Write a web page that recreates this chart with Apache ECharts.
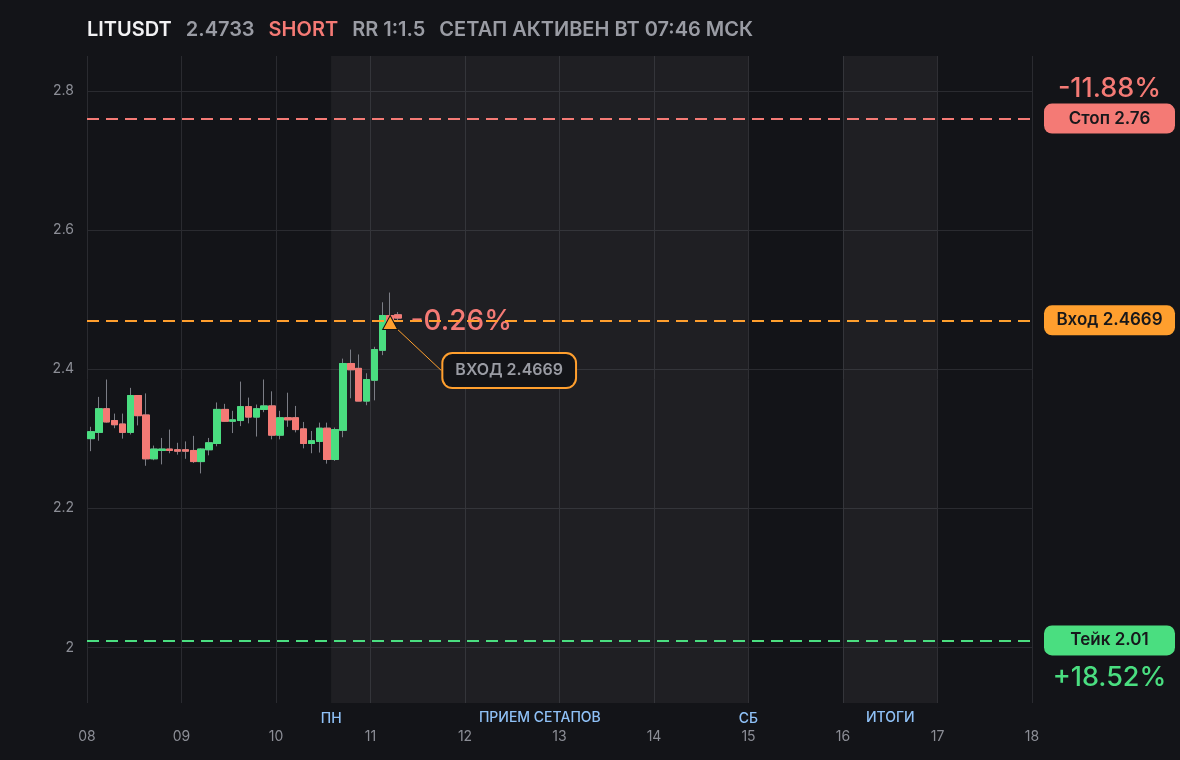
<!DOCTYPE html>
<html>
<head>
<meta charset="utf-8">
<script src="https://cdn.jsdelivr.net/npm/echarts@6/dist/echarts.min.js"></script>
<style>
html,body{margin:0;padding:0;background:#131418;}
#chart{width:1180px;height:760px;}
</style>
</head>
<body>
<div id="chart"></div>
<script>
// ---- header ----
const ticker = 'LITUSDT';
const lastPrice = '2.4733';
const side = 'SHORT';
const rrText = 'RR 1:1.5';
const statusText = 'СЕТАП АКТИВЕН ВТ 07:46 МСК';

// ---- 2h candles (open time "DD HH:MM") ----
const candleTimes = [
  '08 00:00','08 02:00','08 04:00','08 06:00','08 08:00','08 10:00','08 12:00','08 14:00','08 16:00','08 18:00','08 20:00','08 22:00',
  '09 00:00','09 02:00','09 04:00','09 06:00','09 08:00','09 10:00','09 12:00','09 14:00','09 16:00','09 18:00','09 20:00','09 22:00',
  '10 00:00','10 02:00','10 04:00','10 06:00','10 08:00','10 10:00','10 12:00','10 14:00','10 16:00','10 18:00','10 20:00','10 22:00',
  '11 00:00','11 02:00','11 04:00','11 06:00'
];
const opens  = [2.300,2.309,2.343,2.326,2.321,2.309,2.362,2.334,2.271,2.283,2.285,2.284,
                2.284,2.283,2.267,2.284,2.293,2.342,2.325,2.326,2.346,2.331,2.342,2.347,
                2.305,2.330,2.330,2.314,2.293,2.296,2.315,2.270,2.312,2.408,2.401,2.354,
                2.384,2.427,2.477,2.478];
const closes = [2.310,2.343,2.324,2.320,2.309,2.362,2.333,2.271,2.285,2.285,2.283,2.282,
                2.282,2.267,2.285,2.294,2.342,2.325,2.327,2.346,2.331,2.343,2.347,2.305,
                2.330,2.327,2.313,2.293,2.297,2.315,2.270,2.313,2.408,2.399,2.354,2.385,
                2.428,2.477,2.468,2.4733];
const lows   = [2.282,2.297,2.323,2.315,2.300,2.306,2.319,2.261,2.269,2.263,2.279,2.277,
                2.271,2.265,2.250,2.276,2.289,2.324,2.308,2.318,2.322,2.303,2.338,2.299,
                2.299,2.317,2.309,2.286,2.279,2.280,2.264,2.268,2.302,2.358,2.354,2.348,
                2.355,2.420,2.462,2.470];
const highs  = [2.317,2.360,2.385,2.336,2.336,2.373,2.362,2.365,2.290,2.301,2.313,2.294,
                2.296,2.304,2.286,2.301,2.352,2.350,2.340,2.382,2.359,2.349,2.385,2.368,
                2.340,2.366,2.347,2.324,2.311,2.323,2.323,2.316,2.415,2.428,2.421,2.394,
                2.432,2.496,2.510,2.482];

// ---- setup levels ----
const stopPrice = 2.76;
const entryPrice = 2.4669;
const takePrice = 2.01;
const stopPct = '-11.88%';
const takePct = '+18.52%';
const pnlPct = '-0.26%';
const entryTime = '11 05:00';

// ---- axes ----
const dayTicks = ['08','09','10','11','12','13','14','15','16','17','18'];
const priceMin = 1.92, priceMax = 2.85;

// ---- session zones ----
const zoneStarts = ['10 14:00', '16 00:00'];
const zoneEnds   = ['15 00:00', '17 00:00'];
const zoneNames  = ['ПРИЕМ СЕТАПОВ', 'ИТОГИ'];
const edgeTimes  = ['10 14:00', '15 00:00'];
const edgeNames  = ['ПН', 'СБ'];

// ---- colours ----
const C = {
  bg:'#131418', grid:'#2a2b30', axisText:'#8c8e96',
  up:'#4ade80', down:'#f47a75', wick:'#7b7d85',
  stop:'#f47a75', entry:'#ff9f2e', take:'#4ade80',
  zone:'rgba(255,255,255,0.05)', zoneText:'#8fc1f7',
  title:'#f2f2f4', titleGrey:'#9a9ca4'
};
const FONT = 'Inter, "Noto Sans", sans-serif';
const CLEAR = 'rgba(0,0,0,0)';

function toDay(s){
  const [d, hm] = s.split(' ');
  const [h, m] = hm.split(':').map(Number);
  return Number(d) + h/24 + m/1440;
}
const halfCandle = 1/24; // candles drawn at the middle of their 2h period

const wickData = candleTimes.map((t,i)=>[toDay(t)+halfCandle, opens[i], closes[i], lows[i], highs[i]]);
const bodyData = candleTimes.map((t,i)=>[toDay(t)+halfCandle, opens[i], closes[i], Math.min(opens[i],closes[i]), Math.max(opens[i],closes[i])]);
const lastIdx = candleTimes.length - 1;

function pill(text, color){
  return {
    show:true, position:'end', distance:77.5, align:'center', verticalAlign:'middle',
    formatter:text, color:'#17181b', fontFamily:FONT, fontSize:17, fontWeight:600,
    backgroundColor:color, borderRadius:8, width:131, lineHeight:19, padding:[6,0,5,0]
  };
}
function pctLabel(text, color, above){
  return {
    show:true, position:'end', distance:77.5, align:'center',
    verticalAlign: above ? 'bottom' : 'top',
    padding: above ? [0,0,15,0] : [23,0,0,0],
    formatter:text, color:color, fontFamily:FONT, fontSize:27, fontWeight:500, lineHeight:29
  };
}
const dashed = [12,7];

const chart = echarts.init(document.getElementById('chart'), null, {renderer:'canvas'});
chart.setOption({
  backgroundColor:C.bg,
  animation:false,
  title:{
    left:82, top:15,
    text:'{a|'+ticker+'}{g|'+lastPrice+'}{r|'+side+'}{g|'+rrText+'}{g|'+statusText+'}',
    textStyle:{
      rich:{
        a:{color:C.title, fontSize:20, fontWeight:600, fontFamily:FONT, padding:[0,14,0,0]},
        g:{color:C.titleGrey, fontSize:20, fontWeight:600, fontFamily:FONT, padding:[0,14,0,0]},
        r:{color:C.stop, fontSize:20, fontWeight:600, fontFamily:FONT, padding:[0,14,0,0]}
      }
    }
  },
  grid:{left:87, right:148, top:56, bottom:57, containLabel:false},
  xAxis:{
    type:'value', min:8, max:18, interval:1,
    axisLine:{show:false}, axisTick:{show:false},
    axisLabel:{color:C.axisText, fontSize:14, fontFamily:FONT, margin:27,
      formatter:(v)=>dayTicks[Math.round(v-8)] || ''},
    splitLine:{show:true, lineStyle:{color:C.grid, width:1}}
  },
  yAxis:{
    type:'value', min:priceMin, max:priceMax, position:'left',
    axisLine:{show:false}, axisTick:{show:false},
    axisLabel:{color:C.axisText, fontSize:14, fontFamily:FONT, margin:13, showMinLabel:false, showMaxLabel:false},
    splitLine:{show:true, showMinLine:false, showMaxLine:false, lineStyle:{color:C.grid, width:1}}
  },
  series:[
    {
      name:'wicks', type:'candlestick', data:wickData, barWidth:7, z:2,
      itemStyle:{color:C.wick, color0:C.wick, borderColor:C.wick, borderColor0:C.wick, borderWidth:1},
      markArea:{
        silent:true,
        itemStyle:{color:C.zone},
        label:{show:true, position:'bottom', distance:8, color:C.zoneText, fontSize:14, fontWeight:500, fontFamily:FONT},
        data: zoneStarts.map((s,i)=>[{xAxis:toDay(s), name:zoneNames[i]},{xAxis:toDay(zoneEnds[i])}])
      },
      markPoint:{
        silent:true, symbol:'rect', symbolSize:1,
        itemStyle:{color:CLEAR},
        label:{show:true, position:'bottom', distance:8, color:C.zoneText, fontSize:14, fontWeight:500, fontFamily:FONT,
               formatter:(p)=>p.name},
        data: edgeTimes.map((t,i)=>({name:edgeNames[i], coord:[toDay(t), priceMin]}))
      }
    },
    {
      name:'bodies', type:'candlestick', data:bodyData, barWidth:7, z:3,
      itemStyle:{color:C.up, color0:C.down, borderColor:C.up, borderColor0:C.down, borderWidth:1},
      markLine:{
        silent:true, symbol:'none', animation:false,
        lineStyle:{type:dashed, width:2},
        data:[
          {yAxis:stopPrice, lineStyle:{color:C.stop, type:dashed, width:2}, label:pill('Стоп '+stopPrice, C.stop)},
          {yAxis:stopPrice, lineStyle:{color:CLEAR, width:0}, label:pctLabel(stopPct, C.stop, true)},
          {yAxis:entryPrice, lineStyle:{color:C.entry, type:dashed, width:2}, label:pill('Вход '+entryPrice, C.entry)},
          {yAxis:takePrice, lineStyle:{color:C.take, type:dashed, width:2}, label:pill('Тейк '+takePrice, C.take)},
          {yAxis:takePrice, lineStyle:{color:CLEAR, width:0}, label:pctLabel(takePct, C.take, false)}
        ]
      }
    },
    {
      name:'pnl', type:'scatter', z:1, symbol:'circle', symbolSize:1, silent:true,
      itemStyle:{color:CLEAR, opacity:1},
      data:[[wickData[lastIdx][0], closes[lastIdx]]],
      label:{show:true, position:'right', distance:12, formatter:pnlPct, color:C.stop,
             fontSize:28, fontWeight:500, fontFamily:FONT},
      labelLayout:{dy:4}
    },
    {
      name:'entry', type:'scatter', z:5, symbol:'triangle', symbolSize:[15,14], silent:true,
      itemStyle:{color:C.entry, borderColor:'#111214', borderWidth:1, opacity:1},
      data:[[toDay(entryTime), entryPrice]],
      label:{show:true, position:'inside', formatter:'ВХОД '+entryPrice,
             color:C.titleGrey, fontSize:16, fontWeight:600, fontFamily:FONT,
             backgroundColor:C.bg, borderColor:C.entry, borderWidth:2, borderRadius:9,
             padding:[9,12,8,12]},
      labelLayout:{dx:119, dy:48},
      labelLine:{show:true, lineStyle:{color:C.entry, width:1}}
    }
  ]
});
</script>
</body>
</html>
